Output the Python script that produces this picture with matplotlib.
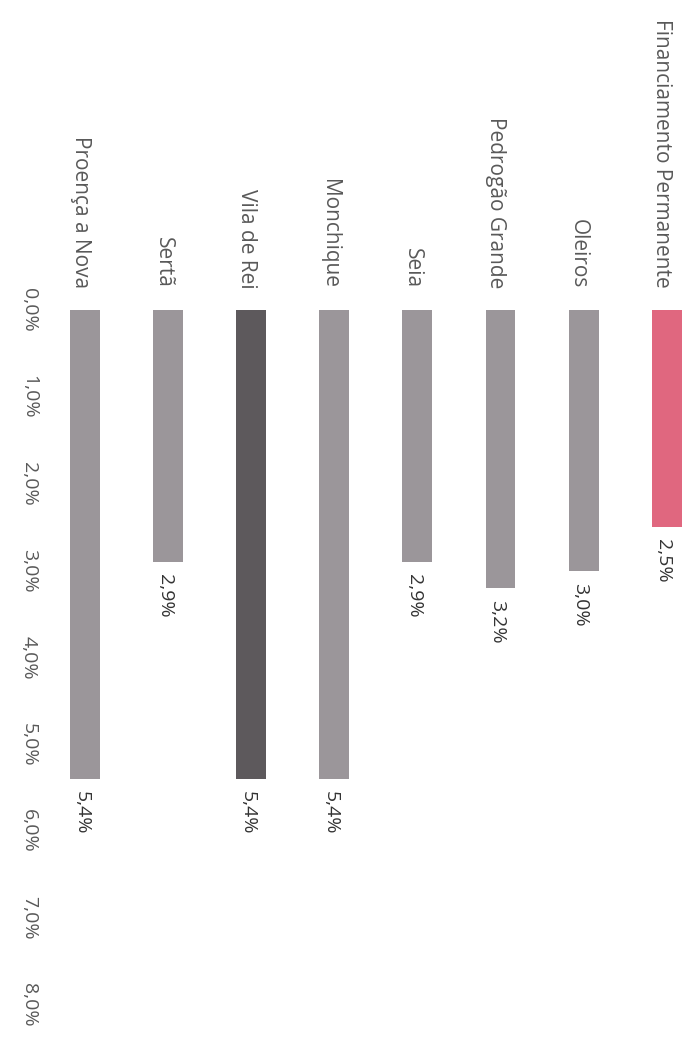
import matplotlib
matplotlib.use("Agg")
import matplotlib.pyplot as plt
from matplotlib.transforms import blended_transform_factory

# Data (order left-to-right on the page)
categories = ["Proença a Nova", "Sertã", "Vila de Rei", "Monchique", "Seia",
              "Pedrogão Grande", "Oleiros", "Financiamento Permanente"]
values = [5.4, 2.9, 5.4, 5.4, 2.9, 3.2, 3.0, 2.5]
value_labels = ["5,4%", "2,9%", "5,4%", "5,4%", "2,9%", "3,2%", "3,0%", "2,5%"]
bar_colors = ["#9b969a", "#9b969a", "#5d595c", "#9b969a", "#9b969a",
              "#9b969a", "#9b969a", "#e0677f"]
ticks = [0, 1, 2, 3, 4, 5, 6, 7, 8]
tick_labels = ["0,0%", "1,0%", "2,0%", "3,0%", "4,0%", "5,0%", "6,0%", "7,0%", "8,0%"]

plt.rcParams['font.family'] = ['Open Sans', 'DejaVu Sans']

fig = plt.figure(figsize=(6.87, 10.5), dpi=100)
ax = fig.add_axes([0, 0, 1, 1])
x = list(range(len(categories)))
ax.bar(x, values, width=0.36, color=bar_colors)
ax.set_xlim(-1.023, 7.244)
ax.set_ylim(8.516, -3.567)
ax.axis("off")

txt_color = "#595959"
for i, (c, v, lab) in enumerate(zip(categories, values, value_labels)):
    ax.text(i - 0.06, -0.25, c, rotation=-90, ha="center", va="bottom",
            fontsize=15, color=txt_color)
    ax.text(i - 0.04, v + 0.14, lab, rotation=-90, ha="center", va="top",
            fontsize=14, color="#333333")

trans = blended_transform_factory(ax.transAxes, ax.transData)
for t, lab in zip(ticks, tick_labels):
    ax.text(0.042, t, lab, rotation=-90, ha="center", va="center",
            fontsize=14, color=txt_color, transform=trans)

fig.savefig("out.png", dpi=100)
